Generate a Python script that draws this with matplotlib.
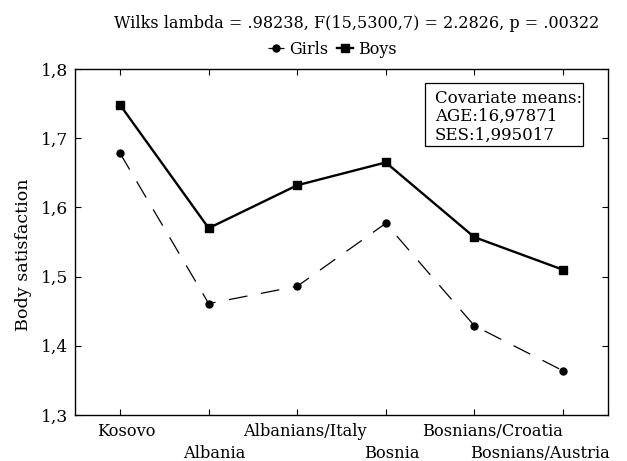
import matplotlib
matplotlib.use('Agg')
import matplotlib.pyplot as plt
from matplotlib.patches import Rectangle
from matplotlib.ticker import FuncFormatter

plt.rcParams['font.family'] = ['DejaVu Serif']

groups = ['Kosovo', 'Albania', 'Albanians/Italy', 'Bosnia', 'Bosnians/Croatia', 'Bosnians/Austria']
girls = [1.678, 1.461, 1.486, 1.577, 1.429, 1.364]
boys = [1.748, 1.570, 1.632, 1.665, 1.557, 1.510]
y_ticks = [1.3, 1.4, 1.5, 1.6, 1.7, 1.8]

title = 'Wilks lambda = .98238, F(15,5300,7) = 2.2826, p = .00322'
covariates = 'Covariate means:\nAGE:16,97871\nSES:1,995017'

fig = plt.figure(figsize=(6.27, 4.61), dpi=100)
ax = fig.add_axes([0.1196, 0.0998, 0.8501, 0.7505])

x = range(len(groups))
ax.plot(x, girls, color='black', lw=0.9, ls=(0, (15, 11)), marker='o', ms=5, label='Girls')
ax.plot(x, boys, color='black', lw=1.7, ls='-', marker='s', ms=5.5, label='Boys')

ax.set_xlim(-0.51, 5.51)
ax.set_ylim(1.3, 1.8)
ax.set_yticks(y_ticks)
ax.yaxis.set_major_formatter(FuncFormatter(lambda v, p: f'{v:.1f}'.replace('.', ',')))
ax.set_xticks(list(x))
ax.set_xticklabels(['' for _ in groups])

# labels alternate on two rows; the outer ones are nudged to stay inside
shift_px = [6, 6, 8, 6, 18, -23]
for i, g in enumerate(groups):
    dy = -0.022 if i % 2 == 0 else -0.088
    ax.annotate(g, (i, dy), xycoords=('data', 'axes fraction'),
                xytext=(shift_px[i] * 0.72, 0), textcoords='offset points',
                ha='center', va='top', fontsize=11.7)

ax.tick_params(direction='in', length=4, top=True, right=True, labelsize=12.3, width=0.8)
ax.tick_params(axis='y', pad=5)
for s in ax.spines.values():
    s.set_linewidth(1.0)

fig.text(0.037, 1 - 255 / 461, 'Body satisfaction', rotation=90, ha='center', va='center', fontsize=12.6)

fig.text(0.569, 0.95, title, ha='center', va='center', fontsize=11.5)
fig.legend(loc='center', bbox_to_anchor=(0.53, 0.893), ncol=2, frameon=False, fontsize=11.5,
           handlelength=1.0, handletextpad=0.3, columnspacing=0.6, numpoints=1, borderpad=0)

ax.add_patch(Rectangle((0.657, 0.777), 0.296, 0.1825, transform=ax.transAxes,
                       fc='white', ec='black', lw=0.9, zorder=3))
ax.text(0.675, 0.94, covariates, transform=ax.transAxes, ha='left', va='top', fontsize=12,
        linespacing=1.1, zorder=4)

fig.savefig('out.png', dpi=100)
